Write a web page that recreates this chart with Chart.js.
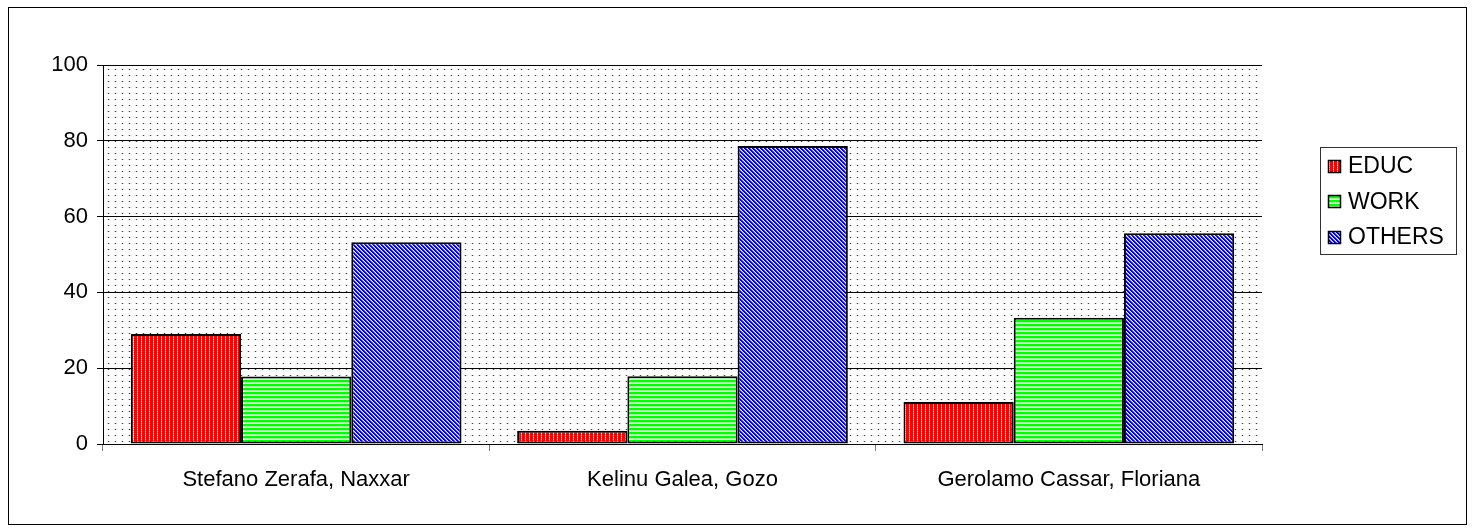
<!DOCTYPE html>
<html>
<head>
<meta charset="utf-8">
<script src="https://cdn.jsdelivr.net/npm/chart.js@4.4.1/dist/chart.umd.min.js"></script>
<style>
html,body{margin:0;padding:0;background:#fff;}
canvas{display:block;}
</style>
</head>
<body>
<canvas id="c" width="1474" height="530"></canvas>
<script>
const categories = ["Stefano Zerafa, Naxxar", "Kelinu Galea, Gozo", "Gerolamo Cassar, Floriana"];
const seriesNames = ["EDUC", "WORK", "OTHERS"];
const educValues = [29.0, 3.5, 11.1];
const workValues = [17.8, 17.9, 33.3];
const othersValues = [53.2, 78.6, 55.6];
const yTicks = [0, 20, 40, 60, 80, 100];

const FONT = "'Liberation Sans', Arial, sans-serif";

function makePattern(w, h, painter) {
  const cv = document.createElement('canvas');
  cv.width = w; cv.height = h;
  const g = cv.getContext('2d');
  painter(g, w, h);
  return document.getElementById('c').getContext('2d').createPattern(cv, 'repeat');
}

const redPattern = makePattern(4, 4, (g) => {
  g.fillStyle = '#ff0000'; g.fillRect(0, 0, 4, 4);
  g.fillStyle = '#ff8080'; g.fillRect(1, 0, 1, 4);
  g.fillStyle = '#ffffff'; g.fillRect(1, 1, 1, 1); g.fillRect(1, 3, 1, 1);
});
const greenPattern = makePattern(4, 4, (g) => {
  g.fillStyle = '#00ff00'; g.fillRect(0, 0, 4, 2);
  g.fillStyle = '#9aff9a'; g.fillRect(0, 2, 4, 1);
  g.fillStyle = '#ffffff'; g.fillRect(0, 3, 4, 1);
});
const bluePattern = makePattern(4, 4, (g) => {
  for (let y = 0; y < 4; y++) {
    for (let x = 0; x < 4; x++) {
      const m = ((x - y) % 4 + 4) % 4;
      g.fillStyle = m <= 1 ? '#0000ff' : (m === 2 ? '#8080ff' : '#ffffff');
      g.fillRect(x, y, 1, 1);
    }
  }
});
const dotPattern = makePattern(7, 6, (g) => {
  g.fillStyle = '#ffffff'; g.fillRect(0, 0, 7, 6);
  g.fillStyle = '#444444'; g.fillRect(3, 3, 1, 1);
  g.fillStyle = '#d0d0d0'; g.fillRect(2, 3, 1, 1); g.fillRect(4, 3, 1, 1);
});

const patterns = [redPattern, greenPattern, bluePattern];
const valueSets = [educValues, workValues, othersValues];

const bgPlugin = {
  id: 'bg',
  beforeDraw(chart) {
    const ctx = chart.ctx, a = chart.chartArea;
    ctx.save();
    ctx.fillStyle = '#ffffff';
    ctx.fillRect(0, 0, chart.width, chart.height);
    ctx.fillStyle = dotPattern;
    ctx.fillRect(a.left, a.top, a.right - a.left, a.bottom - a.top);
    ctx.restore();
  },
  afterDraw(chart) {
    const ctx = chart.ctx;
    ctx.save();
    // outer frame
    ctx.strokeStyle = '#000000';
    ctx.lineWidth = 1;
    ctx.strokeRect(8.5, 7.5, 1458, 517);
    // legend
    ctx.strokeStyle = '#333333';
    ctx.strokeRect(1320.5, 147.5, 136, 107);
    ctx.font = '23px ' + FONT;
    ctx.textBaseline = 'middle';
    ctx.textAlign = 'left';
    chart.data.datasets.forEach((ds, i) => {
      const cy = 166 + i * 35.5;
      ctx.fillStyle = ds.backgroundColor;
      ctx.fillRect(1328, Math.round(cy - 6.5), 13, 13);
      ctx.strokeStyle = '#000000';
      ctx.lineWidth = 1.5;
      ctx.strokeRect(1328.5, Math.round(cy - 6.5) + 0.5, 12, 12);
      ctx.fillStyle = '#000000';
      ctx.fillText(ds.label, 1348, cy + 1);
    });
    ctx.restore();
  }
};

new Chart(document.getElementById('c'), {
  type: 'bar',
  data: {
    labels: categories,
    datasets: seriesNames.map((name, i) => ({
      label: name,
      data: valueSets[i],
      backgroundColor: patterns[i],
      borderColor: '#000000',
      borderWidth: 2,
      borderSkipped: false,
      categoryPercentage: 0.856,
      barPercentage: 1.0
    }))
  },
  options: {
    responsive: false,
    devicePixelRatio: 1,
    animation: false,
    layout: { padding: { left: 0, right: 212, top: 65, bottom: 0 } },
    plugins: { legend: { display: false }, tooltip: { enabled: false } },
    scales: {
      y: {
        min: 0, max: 100,
        afterBuildTicks(s) { s.ticks = yTicks.map(v => ({ value: v })); },
        afterFit(s) { s.width = 103; },
        ticks: { color: '#000000', font: { family: FONT, size: 22 }, padding: 9 },
        grid: { color: '#000000', lineWidth: 1, tickLength: 6 },
        border: { color: '#000000', width: 1 }
      },
      x: {
        afterFit(s) { s.height = 86; },
        ticks: { color: '#000000', font: { family: FONT, size: 22 }, padding: 16, maxRotation: 0 },
        grid: { offset: true, drawOnChartArea: false, drawTicks: true, tickLength: 7, color: '#808080' },
        border: { color: '#000000', width: 1 }
      }
    }
  },
  plugins: [bgPlugin]
});
</script>
</body>
</html>
